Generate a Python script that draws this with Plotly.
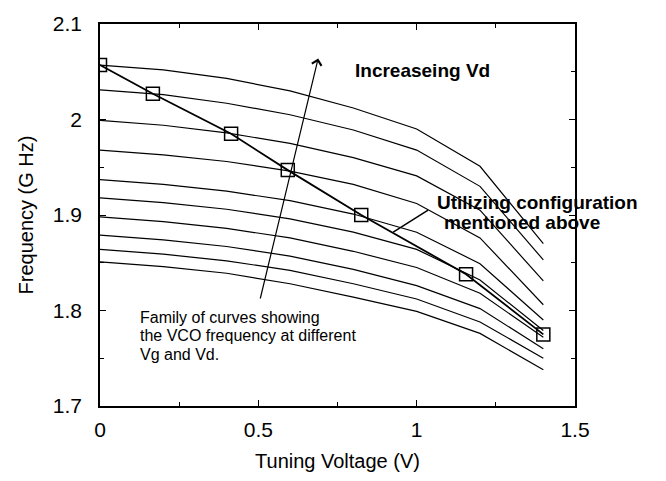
import plotly.graph_objects as go

# Tuning voltage sample points (V)
tuning_v = [0.0, 0.2, 0.4, 0.6, 0.8, 1.0, 1.2, 1.4]

# Family of VCO frequency curves (GHz), one per Vg/Vd setting
curve_1 = [2.057, 2.052, 2.043, 2.030, 2.012, 1.990, 1.951, 1.870]
curve_2 = [2.031, 2.026, 2.017, 2.005, 1.989, 1.968, 1.930, 1.853]
curve_3 = [1.999, 1.994, 1.986, 1.975, 1.960, 1.941, 1.905, 1.831]
curve_4 = [1.968, 1.963, 1.956, 1.946, 1.932, 1.912, 1.876, 1.806]
curve_5 = [1.937, 1.932, 1.925, 1.915, 1.901, 1.882, 1.849, 1.790]
curve_6 = [1.918, 1.913, 1.906, 1.896, 1.882, 1.864, 1.832, 1.779]
curve_7 = [1.898, 1.893, 1.886, 1.876, 1.862, 1.845, 1.818, 1.772]
curve_8 = [1.879, 1.874, 1.867, 1.857, 1.843, 1.826, 1.802, 1.760]
curve_9 = [1.864, 1.859, 1.852, 1.842, 1.828, 1.812, 1.788, 1.750]
curve_10 = [1.851, 1.846, 1.839, 1.828, 1.814, 1.799, 1.776, 1.738]

# Utilizing configuration (square markers)
config_v = [0.0, 0.167, 0.414, 0.593, 0.825, 1.156, 1.4]
config_f = [2.057, 2.027, 1.985, 1.947, 1.900, 1.838, 1.775]

x_ticks = [0, 0.5, 1, 1.5]
x_tick_text = ["0", "0.5", "1", "1.5"]
y_ticks = [1.7, 1.8, 1.9, 2.0, 2.1]
y_tick_text = ["1.7", "1.8", "1.9", "2", "2.1"]

family_lines = ["Family of curves showing", "the VCO frequency at different", "Vg and Vd."]
config_lines = ["Utilizing configuration", "mentioned above"]

FONT = "Liberation Sans, Arial, Helvetica, sans-serif"

fig = go.Figure()
for c in [curve_1, curve_2, curve_3, curve_4, curve_5, curve_6, curve_7, curve_8, curve_9, curve_10]:
    fig.add_trace(go.Scatter(x=tuning_v, y=c, mode="lines",
                             line=dict(color="black", width=1.2), showlegend=False,
                             hoverinfo="skip"))

fig.add_trace(go.Scatter(x=config_v, y=config_f, mode="lines+markers",
                         line=dict(color="black", width=1.8),
                         marker=dict(symbol="square-open", size=13, color="black",
                                     line=dict(width=1.5, color="black")),
                         showlegend=False))

annotations = []
# Increasing Vd arrow
annotations.append(dict(x=0.689, y=2.064, ax=0.505, ay=1.811, xref="x", yref="y",
                        axref="x", ayref="y", text="", showarrow=True,
                        arrowhead=4, arrowsize=1.6, arrowwidth=1.2, arrowcolor="black"))
annotations.append(dict(x=0.799, y=2.051, xref="x", yref="y", text="<b>Increaseing Vd</b>",
                        showarrow=False, xanchor="left", yanchor="middle",
                        font=dict(family=FONT, size=19, color="black")))
# Utilizing configuration text
for i, t in enumerate(config_lines):
    annotations.append(dict(x=1.058 + 0.022 * i, y=1.913 - 0.0213 * i, xref="x", yref="y",
                            text="<b>" + t + "</b>", showarrow=False,
                            xanchor="left", yanchor="middle",
                            font=dict(family=FONT, size=19, color="black")))
# Family of curves text
for i, t in enumerate(family_lines):
    annotations.append(dict(x=0.12, y=1.793 - 0.0193 * i, xref="x", yref="y",
                            text=t, showarrow=False, xanchor="left", yanchor="middle",
                            font=dict(family=FONT, size=16, color="black")))

fig.add_shape(type="line", x0=1.036, y0=1.905, x1=0.926, y1=1.882, xref="x", yref="y",
              line=dict(color="black", width=1.5))

fig.update_layout(
    width=666, height=481,
    margin=dict(l=100, r=91, t=15, b=72),
    paper_bgcolor="white", plot_bgcolor="white",
    font=dict(family=FONT, color="black"),
    annotations=annotations,
    xaxis=dict(range=[0, 1.5], tickvals=x_ticks, ticktext=x_tick_text,
               showline=True, mirror="allticks", linecolor="black", linewidth=1.5,
               ticks="inside", ticklen=6, tickwidth=1, tickcolor="black",
               minor=dict(ticks="inside", ticklen=4, dtick=0.25, tickcolor="black"),
               showgrid=False, zeroline=False,
               tickfont=dict(family=FONT, size=21, color="black"),
               ticklabelstandoff=4,
               title=dict(text="Tuning Voltage (V)", standoff=14,
                          font=dict(family=FONT, size=20, color="black"))),
    yaxis=dict(range=[1.7, 2.1], tickvals=y_ticks, ticktext=y_tick_text,
               showline=True, mirror="allticks", linecolor="black", linewidth=1.5,
               ticks="inside", ticklen=6, tickwidth=1, tickcolor="black",
               minor=dict(ticks="inside", ticklen=4, dtick=0.05, tickcolor="black"),
               showgrid=False, zeroline=False,
               tickfont=dict(family=FONT, size=21, color="black"),
               ticklabelstandoff=12,
               title=dict(text="Frequency (G Hz)", standoff=14,
                          font=dict(family=FONT, size=20, color="black"))),
)

fig.write_html("out.html")
